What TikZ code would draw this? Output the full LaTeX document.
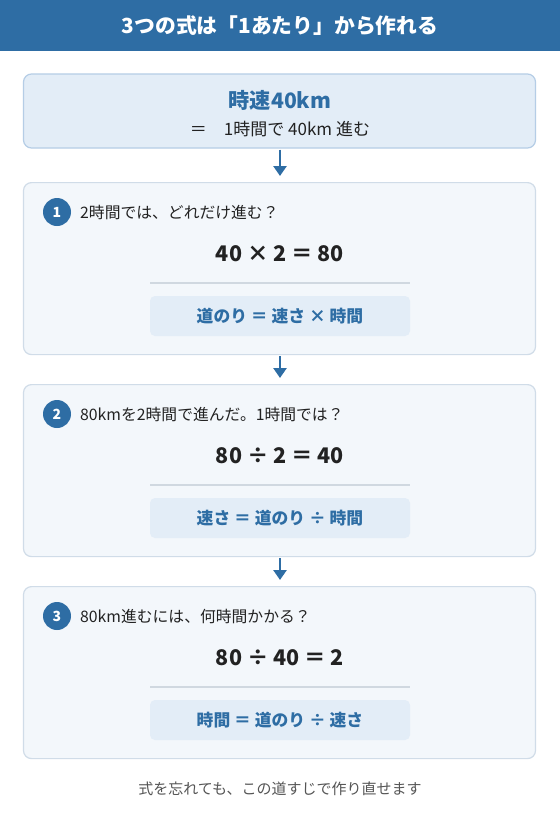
\documentclass[tikz,border=0pt]{standalone}
\usepackage{fontspec}
\setmainfont{Noto Sans CJK JP}
\usetikzlibrary{arrows.meta}
\definecolor{mainblue}{HTML}{2E6DA4}
\definecolor{topfill}{HTML}{E3EDF7}
\definecolor{topborder}{HTML}{B5CDE6}
\definecolor{stepfill}{HTML}{F3F7FB}
\definecolor{stepborder}{HTML}{D0DCE8}
\definecolor{divider}{HTML}{D0D8E0}
\definecolor{darktext}{HTML}{222222}
\definecolor{graytext}{HTML}{555555}
\tikzset{
  stepbox/.style={draw=stepborder, line width=1.2pt, fill=stepfill, rounded corners=8pt},
  formbox/.style={fill=topfill, rounded corners=5pt, minimum width=260pt, minimum height=40pt, inner sep=0pt, text=mainblue, font=\fontsize{16.8}{18}\selectfont\bfseries},
  numcirc/.style={circle, fill=mainblue, minimum size=28pt, inner sep=0pt, text=white, font=\fontsize{14}{16}\selectfont\bfseries},
  qtext/.style={anchor=west, inner sep=0pt, text=darktext, font=\fontsize{15.8}{17}\selectfont},
  eqtext/.style={inner sep=0pt, text=darktext, font=\fontsize{21.5}{24}\selectfont\bfseries},
  flowarrow/.style={draw=mainblue, line width=2.5pt, -{Triangle[length=10pt,width=13pt]}, shorten <=1pt, shorten >=6pt},
  divline/.style={draw=divider, line width=1.2pt}
}
\begin{document}
\begin{tikzpicture}[x=1pt,y=-1pt]
\useasboundingbox (0,0) rectangle (560,820);
\fill[white] (0,0) rectangle (560,820);
% header
\fill[mainblue] (0,0) rectangle (560,51);
\node[text=white, font=\fontsize{20.8}{22}\selectfont\bfseries] (title) at (280,26) {3つの式は「1あたり」から作れる};
% top box
\node[draw=topborder, line width=1.2pt, fill=topfill, rounded corners=8pt, minimum width=512pt, minimum height=74pt] (top) at (279.5,111) {};
\node[text=mainblue, font=\fontsize{21.2}{22}\selectfont\bfseries] (toph) at (280,100) {時速40km};
\node[text=darktext, font=\fontsize{17}{18}\selectfont] (tops) at (280,129) {＝　1時間で 40km 進む};

% step boxes
\foreach \i/\yt in {1/182, 2/384, 3/586} {
  \node[stepbox, minimum width=512pt, minimum height=172pt, anchor=north] (box\i) at (279.5,\yt) {};
}

% step 1
\node[numcirc] (n1) at (57,212) {1};
\node[qtext] (q1) at (80,212) {2時間では、どれだけ進む？};
\node[eqtext] (e1) at (280,254) {40 × 2 ＝ 80};
\coordinate (d1a) at (150,283); \coordinate (d1b) at (410,283);
\draw[divline] (d1a) -- (d1b);
\node[formbox] (f1) at (280,316) {道のり ＝ 速さ × 時間};

% step 2
\node[numcirc] (n2) at (57,414) {2};
\node[qtext] (q2) at (80,414) {80kmを2時間で進んだ。1時間では？};
\node[eqtext] (e2) at (280,456) {80 ÷ 2 ＝ 40};
\coordinate (d2a) at (150,485); \coordinate (d2b) at (410,485);
\draw[divline] (d2a) -- (d2b);
\node[formbox] (f2) at (280,518) {速さ ＝ 道のり ÷ 時間};

% step 3
\node[numcirc] (n3) at (57,616) {3};
\node[qtext] (q3) at (80,616) {80km進むには、何時間かかる？};
\node[eqtext] (e3) at (280,658) {80 ÷ 40 ＝ 2};
\coordinate (d3a) at (150,687); \coordinate (d3b) at (410,687);
\draw[divline] (d3a) -- (d3b);
\node[formbox] (f3) at (280,720) {時間 ＝ 道のり ÷ 速さ};

% arrows
\draw[flowarrow] (top.south -| 280,0) -- (box1.north -| 280,0);
\draw[flowarrow] (box1.south -| 280,0) -- (box2.north -| 280,0);
\draw[flowarrow] (box2.south -| 280,0) -- (box3.north -| 280,0);

% footer
\node[text=graytext, font=\fontsize{15}{17}\selectfont] (foot) at (280,789) {式を忘れても、この道すじで作り直せます};
\end{tikzpicture}
\end{document}
